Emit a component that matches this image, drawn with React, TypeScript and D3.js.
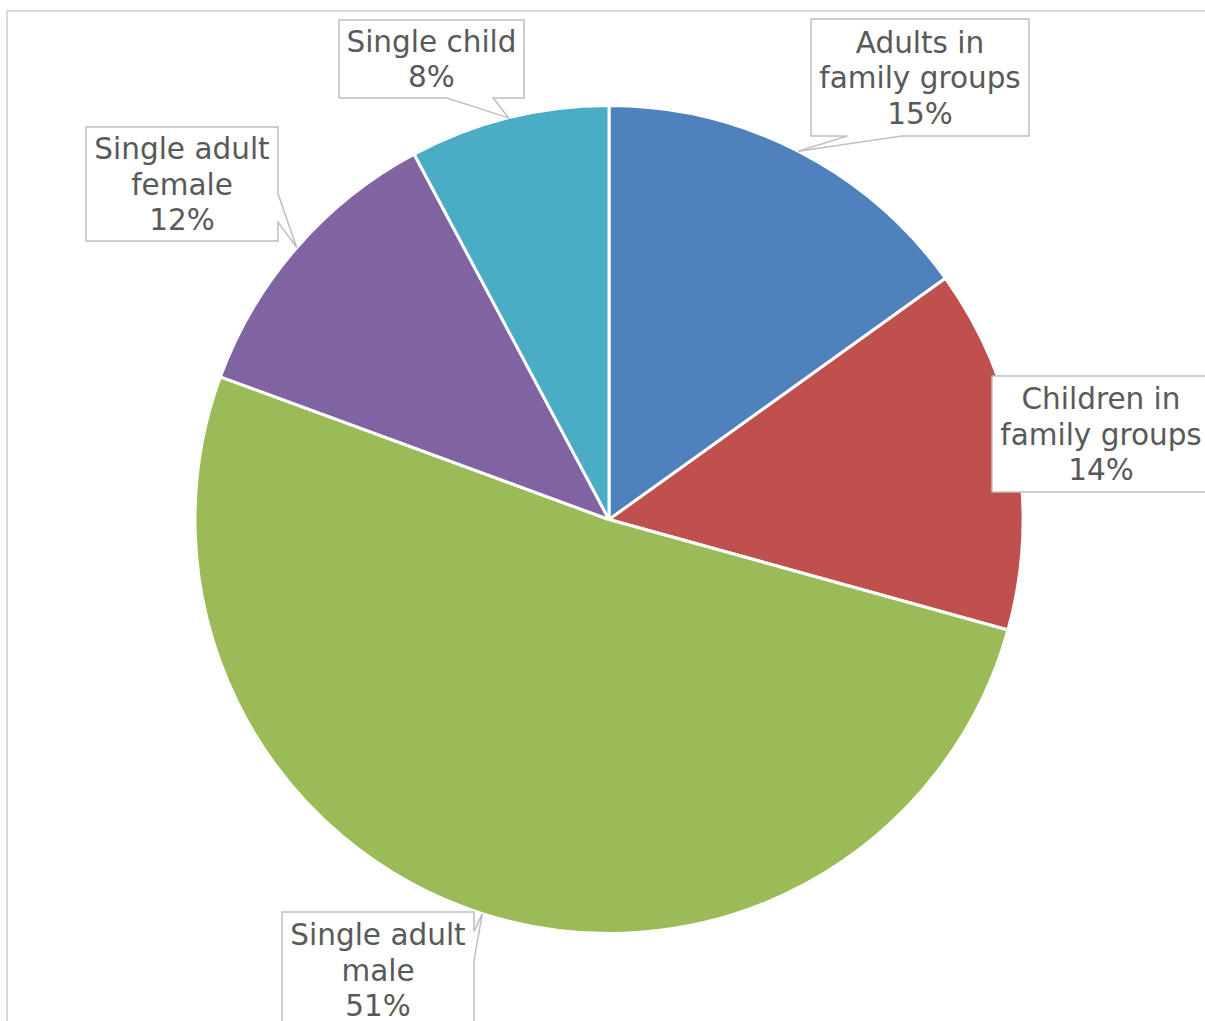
import React from "react";
import * as d3 from "d3";

// ---- data ----
const categories = [
  "Adults in family groups",
  "Children in family groups",
  "Single adult male",
  "Single adult female",
  "Single child",
];
const values = [15.1, 14.2, 51.3, 11.6, 7.8];
const colors = ["#4F81BD", "#C0504D", "#9BBB59", "#8064A2", "#4BACC6"];
const labelLines = [
  ["Adults in", "family groups"],
  ["Children in", "family groups"],
  ["Single adult", "male"],
  ["Single adult", "female"],
  ["Single child"],
];

// ---- layout (label box placement) ----
const boxes = [
  { x: 811, y: 19, w: 218, h: 117 },
  { x: 992, y: 376, w: 218, h: 116 },
  { x: 282, y: 912, w: 192, h: 116 },
  { x: 86, y: 127, w: 192, h: 114 },
  { x: 339, y: 20, w: 185, h: 78 },
];

const W = 1205;
const H = 1021;
const CX = 609;
const CY = 519.5;
const R = 414;
const FS = 29.5;
const LH = 35.5;

function calloutPath(b: { x: number; y: number; w: number; h: number }, tx: number, ty: number) {
  const l = b.x, t = b.y, r = b.x + b.w, btm = b.y + b.h;
  const p = d3.path();
  // tip inside (or touching) the box: no pointer
  if (tx >= l - 4 && tx <= r + 4 && ty >= t - 4 && ty <= btm + 4) {
    p.rect(l, t, b.w, b.h);
    return p.toString();
  }
  const hc = l + b.w / 2, vc = t + b.h / 2;
  const dx = tx - hc, dy = ty - vc;
  const dq = (dx * b.h) / b.w;
  const dz = Math.abs(dy) - Math.abs(dq);
  const x1 = l + (b.w * (dx > 0 ? 7 : 2)) / 12;
  const x2 = l + (b.w * (dx > 0 ? 10 : 5)) / 12;
  const y1 = t + (b.h * (dy > 0 ? 7 : 2)) / 12;
  const y2 = t + (b.h * (dy > 0 ? 10 : 5)) / 12;
  if (dz > 0) {
    if (dy < 0) {
      p.moveTo(l, t); p.lineTo(x1, t); p.lineTo(tx, ty); p.lineTo(x2, t); p.lineTo(r, t);
      p.lineTo(r, btm); p.lineTo(l, btm); p.closePath();
    } else {
      p.moveTo(l, t); p.lineTo(r, t); p.lineTo(r, btm); p.lineTo(x2, btm); p.lineTo(tx, ty);
      p.lineTo(x1, btm); p.lineTo(l, btm); p.closePath();
    }
  } else {
    if (dx < 0) {
      p.moveTo(l, t); p.lineTo(r, t); p.lineTo(r, btm); p.lineTo(l, btm); p.lineTo(l, y2);
      p.lineTo(tx, ty); p.lineTo(l, y1); p.closePath();
    } else {
      p.moveTo(l, t); p.lineTo(r, t); p.lineTo(r, y1); p.lineTo(tx, ty); p.lineTo(r, y2);
      p.lineTo(r, btm); p.lineTo(l, btm); p.closePath();
    }
  }
  return p.toString();
}

export default function App() {
  const total = d3.sum(values);
  const pie = d3.pie<number>().sort(null).value((d) => d).startAngle(0).endAngle(2 * Math.PI);
  const arcs = pie(values);
  const arc = d3.arc<d3.PieArcDatum<number>>().innerRadius(0).outerRadius(R);
  const fmt = d3.format(".0%");

  return (
    <div style={{ position: "absolute", left: 0, top: 0, width: W, height: H, overflow: "hidden" }}>
      <svg width={W} height={H} style={{ display: "block" }}>
        <rect x={0} y={0} width={W} height={H} fill="#ffffff" />
        <rect x={7} y={11} width={W + 100} height={H + 100} fill="#ffffff" stroke="#D9D9D9" strokeWidth={2} />
        <g transform={`translate(${CX},${CY})`}>
          {arcs.map((a, i) => (
            <path key={categories[i]} d={arc(a) || ""} fill={colors[i]} stroke="#ffffff" strokeWidth={3} strokeLinejoin="round" />
          ))}
        </g>
        {arcs.map((a, i) => {
          const mid = (a.startAngle + a.endAngle) / 2;
          const tx = CX + R * Math.sin(mid);
          const ty = CY - R * Math.cos(mid);
          const b = boxes[i];
          const lines = [...labelLines[i], fmt(values[i] / total)];
          const vc = b.y + b.h / 2;
          const hc = b.x + b.w / 2;
          return (
            <g key={"lab" + i}>
              <path d={calloutPath(b, tx, ty)} fill="#ffffff" stroke="#BFBFBF" strokeWidth={1.5} />
              <text
                fontFamily="'DejaVu Sans', Verdana, sans-serif"
                fontSize={FS}
                fill="#595959"
                textAnchor="middle"
              >
                {lines.map((ln, j) => (
                  <tspan key={j} x={hc} y={vc - ((lines.length - 1) / 2) * LH + j * LH + FS * 0.36}>
                    {ln}
                  </tspan>
                ))}
              </text>
            </g>
          );
        })}
      </svg>
    </div>
  );
}
